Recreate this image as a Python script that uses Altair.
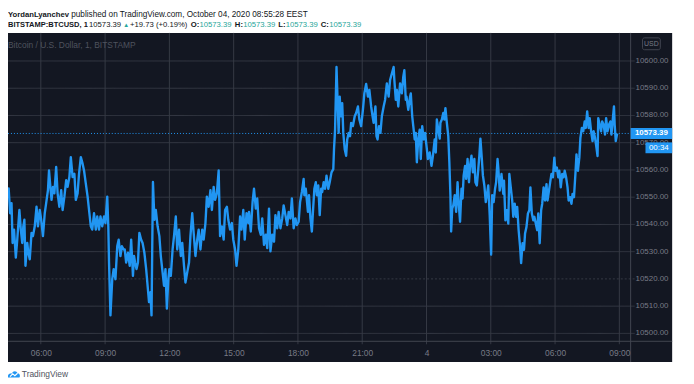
import altair as alt
import pandas as pd

# ---------------- data (BITSTAMP:BTCUSD, 1-minute, traced) ----------------
# minutes since 2020-10-03 00:00 (EEST)
MINUTES = [
    251, 253, 260, 266, 270, 274, 278, 281, 285, 290, 294, 300, 304, 308, 311, 314, 317, 322, 325, 329,
    334, 338, 343, 348, 352, 357, 361, 366, 371, 375, 380, 383, 386, 390, 394, 398, 403, 407, 412, 417,
    421, 426, 431, 435, 440, 444, 449, 454, 458, 463, 467, 472, 477, 481, 486, 491, 495, 500, 504, 509,
    514, 518, 523, 527, 532, 537, 541, 546, 549, 551, 555, 560, 564, 569, 574, 578, 583, 587, 592,
    595, 599, 604, 609, 613, 618, 621, 624, 628, 632, 636, 641, 645, 650, 655, 659, 663, 667, 670, 674,
    678, 682, 687, 692, 696, 701, 705, 709, 713, 717, 720, 724, 729, 733, 738, 742, 747, 752, 756, 761,
    765, 770, 775, 779, 784, 788, 793, 798, 802, 807, 812, 816, 821, 825, 830, 835, 839, 844, 848, 853,
    858, 860, 862, 867, 872, 876, 881, 885, 890, 895, 899, 904, 908, 913, 918, 922, 927, 931, 936, 941,
    943, 948, 953, 957, 962, 966, 971, 976, 980, 985, 990, 994, 999, 1003, 1008, 1013, 1017, 1022, 1026, 1031,
    1036, 1040, 1045, 1050, 1054, 1059, 1063, 1068, 1073, 1077, 1082, 1086, 1091, 1096, 1098, 1102, 1108, 1111, 1115, 1119,
    1122, 1126, 1130, 1133, 1137, 1141, 1145, 1148, 1152, 1156, 1160, 1165, 1169, 1174, 1179, 1181, 1184, 1188, 1191, 1194,
    1197, 1200, 1204, 1207, 1211, 1215, 1218, 1222, 1226, 1229, 1234, 1239, 1243, 1248, 1252, 1257, 1262, 1266, 1271, 1276,
    1280, 1285, 1289,
    1292, 1297, 1300, 1303, 1307, 1311, 1315, 1320, 1324, 1329, 1334, 1338, 1343, 1348, 1350, 1354, 1357, 1361, 1366, 1371,
    1375, 1378, 1382, 1384, 1389, 1394, 1396, 1400, 1403, 1407, 1410, 1413, 1417, 1421, 1424, 1428, 1432, 1436, 1440, 1444,
    1449, 1454, 1458, 1463, 1466, 1469, 1473, 1477, 1479, 1483, 1487, 1490, 1493, 1497, 1501, 1504, 1507, 1509, 1512, 1515,
    1519, 1523, 1527, 1530, 1534, 1538, 1541, 1544, 1548, 1551, 1555, 1559, 1562, 1566, 1570, 1574, 1577, 1581, 1585, 1588,
    1591, 1595, 1598, 1602, 1606, 1609, 1613, 1617, 1621, 1624, 1628, 1632, 1635, 1639,
    1641, 1645, 1650, 1655, 1657, 1661, 1665, 1669, 1672, 1676, 1680, 1683, 1687, 1691, 1694, 1698, 1702, 1705, 1709, 1713,
    1716, 1720, 1724, 1728, 1731, 1735, 1739, 1742, 1746, 1750, 1753, 1757, 1761, 1764, 1768, 1772, 1776, 1779, 1783, 1787,
    1790, 1794, 1798, 1801, 1805, 1809, 1812, 1816, 1820, 1824, 1827, 1831, 1835, 1838, 1842, 1846, 1849, 1853, 1857, 1860,
    1864, 1868, 1871, 1875, 1879, 1883, 1886, 1890, 1894, 1897, 1901, 1905, 1908, 1912, 1916, 1919, 1921, 1925, 1929, 1932,
    1936, 1940, 1943, 1947, 1951, 1955, 1958, 1962, 1965, 1967, 1970, 1974,
]
PRICES = [
    10551.4, 10541.7, 10546.5, 10552.6, 10553.2, 10544.1, 10547.8, 10533.2, 10538.1, 10527.8, 10534.4, 10545.3, 10538.1, 10533.2, 10539.3, 10541.7, 10524.8, 10533.2, 10529.6, 10527.2,
    10536.9, 10535.7, 10539.3, 10546.5, 10539.3, 10545.3, 10541.7, 10535.7, 10544.1, 10547.8, 10552.6, 10559.8, 10555.0, 10549.0, 10553.8, 10551.4, 10561.1, 10551.4, 10546.5, 10552.6,
    10545.3, 10550.2, 10556.2, 10553.8, 10557.4, 10564.7, 10557.4, 10558.6, 10549.0, 10551.4, 10558.6, 10564.7, 10562.3, 10559.8, 10555.0, 10550.2, 10545.3, 10539.3, 10538.1, 10544.1,
    10538.1, 10542.9, 10538.1, 10542.9, 10539.3, 10542.9, 10540.5, 10550.2, 10539.3, 10526.0, 10506.6, 10519.9, 10523.6, 10519.9, 10532.0, 10534.4, 10528.4, 10532.0, 10530.8,
    10530.8, 10526.0, 10529.6, 10524.8, 10534.4, 10521.1, 10528.4, 10526.0, 10523.6, 10526.0, 10536.9, 10534.4, 10533.2, 10529.6, 10523.6, 10517.5, 10511.5, 10515.1, 10506.6, 10555.6,
    10541.7, 10545.3, 10539.3, 10535.7, 10528.4, 10522.4, 10517.5, 10523.6, 10509.1, 10519.9, 10523.6, 10521.1, 10530.8, 10535.7, 10542.9, 10530.8, 10538.1, 10528.4, 10533.2, 10524.8,
    10518.7, 10522.4, 10526.0, 10535.7, 10544.1, 10536.9, 10528.4, 10534.4, 10538.1, 10530.8, 10538.1, 10534.4, 10540.5, 10550.2, 10546.5, 10552.6, 10545.3, 10553.8, 10549.0, 10551.4,
    10559.8, 10547.8, 10535.7, 10539.3, 10534.4, 10545.3, 10546.5, 10541.7, 10538.1, 10540.5, 10534.4, 10530.8, 10524.8, 10530.8, 10542.9, 10538.1, 10545.3, 10534.4, 10544.1, 10540.5,
    10544.6, 10537.4, 10548.2, 10553.1, 10545.8, 10549.5, 10538.6, 10536.2, 10542.2, 10532.5, 10536.2, 10531.3, 10545.8, 10530.1, 10536.2, 10533.7, 10543.4, 10538.6, 10544.6, 10538.6,
    10542.2, 10547.0, 10543.4, 10539.8, 10544.6, 10542.2, 10549.5, 10538.6, 10542.2, 10539.8, 10541.0, 10548.2, 10551.9, 10556.7, 10550.7, 10553.1, 10544.6, 10550.7, 10542.2, 10537.4,
    10544.6, 10553.1, 10555.5, 10550.7, 10554.3, 10543.4, 10553.1, 10551.9, 10555.5, 10553.1, 10557.9, 10553.1, 10555.5, 10559.1, 10560.3, 10567.6, 10574.8, 10597.8, 10585.7, 10573.6,
    10586.9, 10579.7, 10584.5, 10573.6, 10567.6, 10565.2, 10571.2, 10573.6, 10572.4, 10577.3, 10576.1, 10579.7, 10580.9, 10583.3, 10578.5, 10576.1, 10582.1, 10588.1, 10591.6, 10586.9,
    10589.4, 10583.3, 10579.7,
    10577.3, 10583.3, 10572.4, 10571.2, 10576.1, 10573.6, 10579.7, 10583.3, 10585.7, 10591.8, 10586.9, 10593.0, 10595.4, 10597.8, 10593.0, 10585.7, 10589.4, 10583.3, 10591.8, 10588.1,
    10594.2, 10596.6, 10585.7, 10586.9, 10582.1, 10586.9, 10588.1, 10579.7, 10576.1, 10571.2, 10573.6, 10562.8, 10571.5, 10574.8, 10564.0, 10576.1, 10571.2, 10573.6, 10568.8, 10564.0,
    10566.4, 10561.5, 10565.2, 10571.2, 10566.4, 10578.5, 10574.8, 10571.5, 10577.3, 10578.5, 10580.9, 10578.5, 10582.7, 10577.3, 10572.4, 10562.8, 10550.7, 10537.4, 10545.8, 10547.0,
    10550.7, 10544.6, 10555.5, 10548.2, 10541.0, 10553.1, 10549.5, 10557.9, 10561.5, 10556.7, 10564.0, 10555.5, 10561.5, 10565.2, 10559.1, 10564.0, 10555.5, 10554.3, 10560.3, 10565.2,
    10571.5, 10564.0, 10557.9, 10554.3, 10548.2, 10550.7, 10554.3, 10543.4, 10528.9, 10550.7, 10548.2, 10553.1, 10555.5, 10564.0,
    10560.9, 10552.4, 10558.5, 10551.2, 10556.1, 10541.5, 10545.2, 10540.3, 10558.5, 10553.6, 10548.8, 10542.8, 10547.6, 10542.8, 10546.4, 10537.9, 10531.9, 10525.8, 10533.1, 10530.7,
    10536.7, 10539.1, 10544.0, 10545.2, 10553.6, 10544.0, 10541.5, 10542.8, 10540.3, 10537.9, 10544.0, 10533.1, 10545.2, 10547.6, 10553.6, 10548.8, 10554.8, 10548.8, 10552.4, 10556.1,
    10558.5, 10557.3, 10564.5, 10559.7, 10560.9, 10557.3, 10559.7, 10553.6, 10558.5, 10557.3, 10559.7, 10557.3, 10553.6, 10548.8, 10550.0, 10547.6, 10551.2, 10550.0, 10558.5, 10565.7,
    10559.7, 10564.5, 10571.8, 10575.4, 10574.2, 10577.8, 10575.4, 10581.5, 10575.4, 10579.0, 10574.2, 10570.6, 10574.2, 10571.8, 10568.1, 10565.1, 10579.0, 10576.6, 10574.2, 10577.8,
    10576.6, 10573.0, 10579.0, 10574.2, 10576.6, 10577.8, 10573.0, 10579.0, 10583.3, 10576.6, 10570.6, 10573.39,
]

LAST_PRICE = 10573.39
LAST_PRICE_LABEL = "10573.39"
COUNTDOWN = "00:34"
PRICE_TICKS = [10500, 10510, 10520, 10530, 10540, 10550, 10560, 10570, 10580, 10590, 10600]
PRICE_LABELS = ["10500.00", "10510.00", "10520.00", "10530.00", "10540.00", "10550.00",
                "10560.00", "10570.00", "10580.00", "10590.00", "10600.00"]
TIME_TICKS = [360, 540, 720, 900, 1080, 1260, 1440, 1620, 1800, 1980]
TIME_LABELS = ["06:00", "09:00", "12:00", "15:00", "18:00", "21:00", "4", "03:00", "06:00", "09:00"]
X_DOMAIN = [268.1, 2011.7]
Y_DOMAIN = [10497.1, 10610.3]

HEADER_1 = ["YordanLyanchev", "published on TradingView.com, October 04, 2020 08:55:28 EEST"]
SYMBOL = "BITSTAMP:BTCUSD, 1"
CHANGE = "+19.73 (+0.19%)"
OHLC_KEYS = ["O:", "H:", "L:", "C:"]
OHLC_VALS = ["10573.39", "10573.39", "10573.39", "10573.39"]
LEGEND = "Bitcoin / U.S. Dollar, 1, BITSTAMP"

# ---------------- style ----------------
FONT = "Liberation Sans"
BG = "#131722"
GRID = "#363a45"
SEP = "#434651"
LINE = "#2196f3"
LABEL = "#787b86"
TEAL = "#26a69a"
DARK = "#131722"

W, H = 630, 312

df = pd.DataFrame({"t": MINUTES, "p": PRICES})
ticks_df = pd.DataFrame({"p": PRICE_TICKS, "lab": PRICE_LABELS})
one = alt.Data(values=[{"k": 0}])

xscale = alt.Scale(domain=X_DOMAIN, nice=False, zero=False)
yscale = alt.Scale(domain=Y_DOMAIN, nice=False, zero=False)

labels_js = "[" + ",".join(f"'{s}'" for s in TIME_LABELS) + "]"
vals_js = "[" + ",".join(str(v) for v in TIME_TICKS) + "]"
time_expr = f"{labels_js}[indexof({vals_js}, datum.value)]"

XAXIS = alt.Axis(values=TIME_TICKS, labelExpr=time_expr, grid=False, ticks=False, tickSize=0,
                 domain=False, labelPadding=7, labelFontSize=8.5, labelFont=FONT,
                 labelColor=LABEL, labelOverlap=False, labelFlush=False, zindex=1, title=None)
YAXIS = alt.Axis(orient="right", values=PRICE_TICKS, labels=False, grid=False, ticks=False,
                 tickSize=0, domain=False, title=None)


def rect(x, x2, y, y2, **kw):
    return alt.Chart(one).mark_rect(**kw).encode(
        x=alt.value(x), x2=alt.value(x2), y=alt.value(y), y2=alt.value(y2))


def rule(x, x2, y, y2, **kw):
    return alt.Chart(one).mark_rule(**kw).encode(
        x=alt.value(x), x2=alt.value(x2), y=alt.value(y), y2=alt.value(y2))


def txt(s, x, y, size=8.5, color=DARK, weight="normal", align="left", baseline="alphabetic"):
    return alt.Chart(one).mark_text(
        text=s, font=FONT, fontSize=size, color=color, fontWeight=weight,
        align=align, baseline=baseline).encode(x=alt.value(x), y=alt.value(y))


def last_y():
    return alt.YDatum(LAST_PRICE, type="quantitative", scale=yscale, axis=YAXIS)


background = rect(0, 672, 0, 333, color=BG)

hgrid = alt.Chart(ticks_df).mark_rule(color=GRID, strokeWidth=1).encode(
    y=alt.Y("p:Q", scale=yscale, axis=YAXIS),
    x=alt.value(0), x2=alt.value(634),
    strokeDash=alt.condition("datum.p == 10520", alt.value([2, 2]), alt.value([1, 0])),
)
ylabels = alt.Chart(ticks_df).mark_text(
    align="left", baseline="middle", font=FONT, fontSize=8, color=LABEL).encode(
    y=alt.Y("p:Q", scale=yscale, axis=YAXIS), x=alt.value(635), text="lab:N")
vgrid = alt.Chart(pd.DataFrame({"t": TIME_TICKS})).mark_rule(color=GRID, strokeWidth=1).encode(
    x=alt.X("t:Q", scale=xscale, axis=XAXIS),
    y=alt.value(0), y2=alt.value(315),
)

price_line = alt.Chart(df).mark_line(color=LINE, strokeWidth=2.4, clip=True, strokeJoin="round").encode(
    x=alt.X("t:Q", scale=xscale, axis=XAXIS),
    y=alt.Y("p:Q", scale=yscale, axis=YAXIS),
    order=alt.Order("t:Q"),
)

last_line = alt.Chart(one).mark_rule(color=LINE, strokeDash=[1, 2], strokeWidth=1).encode(
    y=last_y(), x=alt.value(0), x2=alt.value(W))

sep_v = rule(W, W, 0, 333, color=SEP)
sep_h = rule(0, 672, H, H, color=SEP)

price_box = alt.Chart(one).mark_tick(orient="horizontal", size=42, thickness=11, color=LINE, opacity=1).encode(
    y=last_y(), x=alt.value(651))
price_txt = alt.Chart(one).mark_text(text=LAST_PRICE_LABEL, font=FONT, fontSize=8, fontWeight="bold",
                                     color="white", align="center", baseline="middle").encode(
    y=last_y(), x=alt.value(651))
cd_box = alt.Chart(one).mark_tick(orient="horizontal", size=27, thickness=11, color=LINE, opacity=1,
                                  yOffset=14.5).encode(y=last_y(), x=alt.value(658.5))
cd_txt = alt.Chart(one).mark_text(text=COUNTDOWN, font=FONT, fontSize=8, color="white", align="center",
                                  baseline="middle", yOffset=14.5).encode(
    y=last_y(), x=alt.value(658.5))

usd_box = rect(642, 660, 5, 17, fill=BG, stroke="#434651", strokeWidth=1, cornerRadius=2)
usd_txt = txt("USD", 651, 11.5, size=7, color=LABEL, align="center", baseline="middle")

legend = txt(LEGEND, 0, 15.5, size=8.5, color="#4f535e")

# header (above the dark panel)
h1a = txt(HEADER_1[0], 0, -16.5, size=7.8, weight="bold")
h1b = txt(HEADER_1[1], 64, -16.5, size=8.3)
h2 = [txt(SYMBOL, 0, -5.5, size=7.6, weight="bold"),
      txt(LAST_PRICE_LABEL, 82, -5.5, size=7.8),
      txt("▲", 116.5, -5.5, size=6, color=TEAL),
      txt(CHANGE, 123.5, -5.5, size=7.8)]
ox = [185, 229.5, 273.5, 316.5]
kw = [8.7, 8.5, 7.5, 8.5]
for k, v, x0, w in zip(OHLC_KEYS, OHLC_VALS, ox, kw):
    h2.append(txt(k, x0, -5.5, size=7.8, weight="bold"))
    h2.append(txt(v, x0 + w, -5.5, size=7.8, color=TEAL))

# footer logo + name
logo = alt.Chart(one).mark_point(
    shape="M-1,0.6 C-1.1,0.1 -0.7,-0.15 -0.35,-0.05 C-0.2,-0.55 0.45,-0.6 0.6,-0.1 C0.95,-0.1 1.1,0.35 0.9,0.6 Z",
    filled=True, size=150, color=LINE, opacity=1).encode(x=alt.value(6), y=alt.value(345))
logo_zig = alt.Chart(one).mark_point(
    shape="M-0.65,0.45 L-0.2,0.0 L0.15,0.3 L0.6,-0.1", filled=False, size=150, color="white",
    strokeWidth=1.2, opacity=1).encode(x=alt.value(6), y=alt.value(345))
footer = txt("TradingView", 14, 348.5, size=8.5, color="#50535e")

chart = alt.layer(
    background, hgrid, vgrid, ylabels, last_line, price_line, sep_v, sep_h,
    price_box, price_txt, cd_box, cd_txt, usd_box, usd_txt, legend,
    h1a, h1b, *h2, logo, logo_zig, footer,
).resolve_scale(x="shared", y="shared").properties(
    width=W, height=H,
    autosize=alt.AutoSizeParams(type="none"),
    padding={"left": 0, "top": 23, "right": 56, "bottom": 41},
    background="white",
).configure_view(stroke=None, fill=None)

chart.save("out.html", embed_options={"renderer": "svg", "actions": False})
